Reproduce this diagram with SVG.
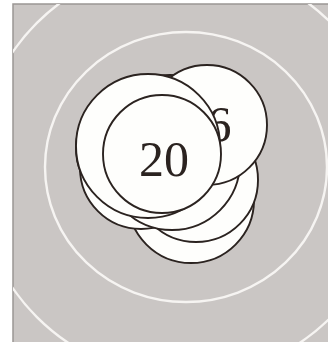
<svg xmlns="http://www.w3.org/2000/svg" width="328" height="342" viewBox="0 0 328 342">
<defs>
<style>
.bg{fill:#cac6c4;stroke:#9a9694;stroke-width:1.5}
.ring{fill:none;stroke:#f6f4f2;stroke-width:2.4}
.disc{fill:#fefefc;stroke:#2b2320;stroke-width:1.9}
.num{font-family:"Liberation Serif","Times New Roman",serif;font-size:50px;fill:#2b2320;text-anchor:middle}
</style>
<clipPath id="frame"><rect x="13" y="4" width="315" height="338"/></clipPath>
</defs>
<rect width="328" height="342" fill="#ffffff"/>
<rect class="bg" x="13" y="4" width="318" height="342"/>
<g clip-path="url(#frame)">
<ellipse class="ring" cx="186" cy="167" rx="141" ry="135"/>
<circle class="ring" cx="184" cy="170" r="208"/>
</g>
<g id="coin-g"><circle class="disc" cx="191" cy="200" r="63"/></g>
<g id="coin-f"><circle class="disc" cx="196" cy="180" r="62"/></g>
<g id="coin-h"><circle class="disc" cx="170" cy="136" r="61"/></g>
<g id="coin-c"><circle class="disc" cx="138" cy="148" r="62"/></g>
<g id="coin-d"><circle class="disc" cx="141" cy="168" r="61"/></g>
<g id="coin-e"><circle class="disc" cx="172" cy="162" r="68"/></g>
<g id="coin-6"><circle class="disc" cx="207" cy="125" r="60"/><text class="num" x="219" y="141">6</text></g>
<g id="coin-tl"><circle class="disc" cx="148" cy="146" r="72"/></g>
<g id="coin-20"><circle class="disc" cx="162" cy="154" r="59"/><text class="num" x="164" y="176">20</text></g>
</svg>
